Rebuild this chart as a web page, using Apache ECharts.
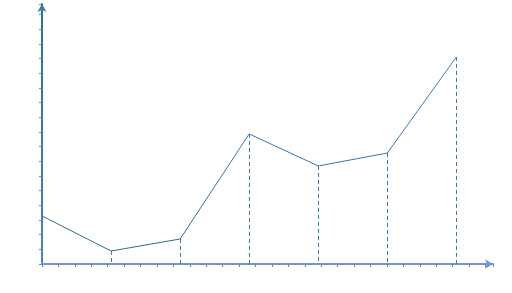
<!DOCTYPE html>
<html>
<head>
<meta charset="utf-8">
<script src="https://cdn.jsdelivr.net/npm/echarts@6/dist/echarts.min.js"></script>
<style>html,body{margin:0;padding:0;background:#fff}#c{width:512px;height:293px}</style>
</head>
<body>
<div id="c"></div>
<script>
// data
var pointIndex = [0, 1, 2, 3, 4, 5, 6];
var values = [30.5, 6.6, 14.8, 86.4, 64.6, 73.4, 138.9];
// axis ranges
var yMin = -2.25, yMax = 175, yInterval = 10;
var tickMin = -0.75, tickMax = 26.7, tickInterval = 1;
var dataXMin = 0, dataXMax = 6.53;

var chart = echarts.init(document.getElementById('c'), null, {renderer: 'canvas'});
var G = echarts.graphic.LinearGradient;
var seriesData = pointIndex.map(function (x, i) { return [x, values[i]]; });
var drops = pointIndex.slice(1).map(function (x, k) {
  var v = values[k + 1];
  return [{coord: [x, v]}, {coord: [x, yMin]}];
});

chart.setOption({
  animation: false,
  grid: {left: 42, right: 19, top: 4, bottom: 29, containLabel: false},
  xAxis: [{
    type: 'value', min: tickMin, max: tickMax, interval: tickInterval,
    position: 'bottom',
    axisLine: {show: true, onZero: false, symbol: ['none', 'arrow'], symbolSize: [7, 8],
      lineStyle: {color: '#7395d6', width: 2}},
    axisTick: {show: true, length: 3, lineStyle: {color: '#5a7fce', width: 1}},
    axisLabel: {show: false},
    splitLine: {show: false}
  }, {
    type: 'value', min: dataXMin, max: dataXMax, show: false
  }],
  yAxis: {
    type: 'value', min: yMin, max: yMax, interval: yInterval,
    axisLine: {show: true, onZero: false, symbol: ['none', 'arrow'], symbolSize: [7, 8],
      lineStyle: {color: new G(0, 0, 0, 1, [{offset: 0, color: '#24757f'}, {offset: 1, color: '#4e7fd0'}]), width: 2}},
    axisTick: {show: true, length: 3, lineStyle: {color: '#5c8fb8', width: 1}},
    axisLabel: {show: false},
    splitLine: {show: false}
  },
  series: [{
    type: 'line',
    xAxisIndex: 1,
    data: seriesData,
    showSymbol: false,
    lineStyle: {width: 1, color: new G(0, 0, 0, 1, [{offset: 0, color: '#4a7ccf'}, {offset: 1, color: '#2c6f84'}])},
    markLine: {
      silent: true,
      symbol: ['none', 'none'],
      label: {show: false},
      lineStyle: {type: [4, 3], width: 1, color: '#3f7a9e'},
      data: drops
    }
  }]
});
</script>
</body>
</html>
